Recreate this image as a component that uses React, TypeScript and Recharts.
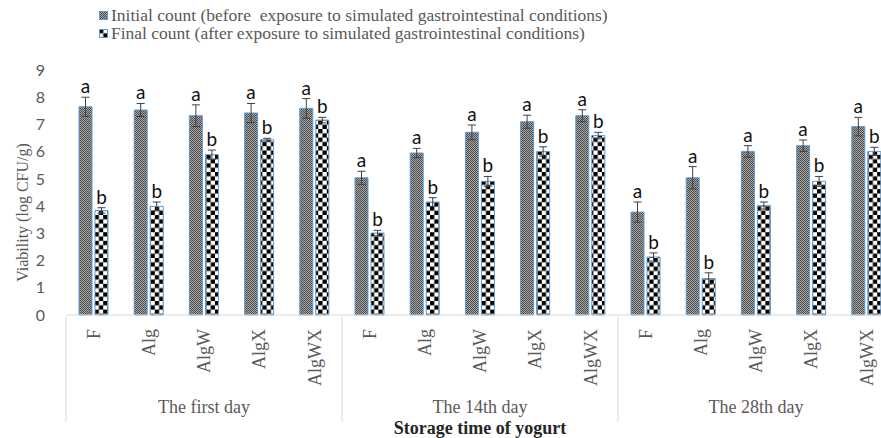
import React from "react";
import { BarChart, Bar, XAxis, YAxis, ErrorBar, LabelList, Legend } from "recharts";

const treatments = ["F", "Alg", "AlgW", "AlgX", "AlgWX"];
const storageDays = ["The first day", "The 14th day", "The 28th day"];

// log CFU/g
const initialCount = [7.65, 7.53, 7.32, 7.42, 7.59, 5.04, 5.95, 6.71, 7.1, 7.32, 3.78, 5.04, 6.01, 6.22, 6.92];
const initialErr = [0.35, 0.24, 0.4, 0.35, 0.36, 0.24, 0.17, 0.27, 0.24, 0.22, 0.37, 0.41, 0.21, 0.21, 0.34];
const finalCount = [3.84, 3.99, 5.89, 6.44, 7.16, 3.01, 4.15, 4.91, 6.01, 6.59, 2.13, 1.34, 4.02, 4.91, 6.01];
const finalErr = [0.1, 0.16, 0.17, 0.05, 0.1, 0.1, 0.16, 0.18, 0.17, 0.12, 0.15, 0.21, 0.13, 0.18, 0.15];
const yTicks = [0, 1, 2, 3, 4, 5, 6, 7, 8, 9];

const data = storageDays.flatMap((day, g) =>
  treatments.map((t, i) => {
    const k = g * treatments.length + i;
    return {
      name: t,
      day,
      initial: initialCount[k],
      initialErr: initialErr[k],
      final: finalCount[k],
      finalErr: finalErr[k],
      sigA: "a",
      sigB: "b",
    };
  })
);

const CHART_W = 900;
const CHART_H = 438;
const LEFT = 66;
const RIGHT_MARGIN = 6;
const BAND = (CHART_W - LEFT - RIGHT_MARGIN) / data.length;
const GRID = "#d9d9d9";
const TEXT = "#595959";
const SERIF = "'Liberation Serif', 'Times New Roman', serif";
const SANS = "Lato, 'Open Sans', sans-serif";

const XTick = ({ x, y, payload, index }: any) => {
  const perGroup = treatments.length;
  return (
    <g>
      <text
        x={x}
        y={y + 12}
        dy="0.35em"
        transform={`rotate(-90, ${x}, ${y + 12})`}
        textAnchor="end"
        fontFamily={SERIF}
        fontSize={18}
        fill={TEXT}
      >
        {payload.value}
      </text>
      {index % perGroup === 0 && (
        <line x1={x - BAND / 2} x2={x - BAND / 2} y1={y} y2={y + 105} stroke={GRID} />
      )}
      {index % perGroup === 2 && (
        <text x={x} y={y + 96} textAnchor="middle" fontFamily={SERIF} fontSize={18} fill={TEXT}>
          {data[index].day}
        </text>
      )}
    </g>
  );
};

const sigLabel = (errs: number[], vals: number[]) => (props: any) => {
  const { x, y, width, height, value, index } = props;
  const pxPerUnit = height / vals[index];
  const top = y - errs[index] * pxPerUnit;
  return (
    <text x={x + width / 2} y={top - 4} textAnchor="middle" fontFamily={SANS} fontSize={19} fill="#111">
      {value}
    </text>
  );
};

const legendItems = [
  { fill: "url(#pInit)", text: "Initial count (before  exposure to simulated gastrointestinal conditions)" },
  { fill: "url(#pFinal)", text: "Final count (after exposure to simulated gastrointestinal conditions)" },
];

const renderLegend = () => (
  <div style={{ fontFamily: SERIF, fontSize: 17.5, color: TEXT, lineHeight: "18px" }}>
    {legendItems.map((it) => (
      <div key={it.text} style={{ display: "flex", alignItems: "center", whiteSpace: "pre" }}>
        <svg width={9} height={9} style={{ marginRight: 3 }}>
          <rect x={0.5} y={0.5} width={8} height={8} fill={it.fill} stroke="#5b9bd5" />
        </svg>
        <span>{it.text}</span>
      </div>
    ))}
  </div>
);

export default function App() {
  return (
    <div style={{ position: "absolute", left: 0, top: 0, width: 881, height: 438, overflow: "hidden", background: "#fff" }}>
      <BarChart
        width={CHART_W}
        height={CHART_H}
        data={data}
        margin={{ top: 70, right: RIGHT_MARGIN, bottom: 0, left: 0 }}
        barSize={13}
        barGap={3}
      >
        <defs>
          <pattern id="pInit" width="2" height="2" patternUnits="userSpaceOnUse">
            <rect width="2" height="2" fill="#a6a6a6" />
            <rect width="1" height="1" fill="#4d4d4d" />
            <rect x="1" y="1" width="1" height="1" fill="#4d4d4d" />
          </pattern>
          <pattern id="pFinal" width="8.6" height="8.6" patternUnits="userSpaceOnUse">
            <rect width="8.6" height="8.6" fill="#fff" />
            <rect width="4.3" height="4.3" fill="#000" />
            <rect x="4.3" y="4.3" width="4.3" height="4.3" fill="#000" />
          </pattern>
        </defs>
        <Legend
          layout="vertical"
          align="center"
          verticalAlign="middle"
          content={renderLegend}
          wrapperStyle={{ position: "absolute", top: 6, left: 99, width: 700 }}
        />
        <XAxis
          dataKey="name"
          interval={0}
          height={123}
          tickLine={false}
          tickSize={0}
          axisLine={{ stroke: GRID }}
          tick={<XTick />}
          label={{
            value: "Storage time of yogurt",
            position: "insideBottom",
            offset: 4,
            style: { fontFamily: SERIF, fontSize: 18, fontWeight: "bold", fill: "#262626" },
          }}
        />
        <YAxis
          width={LEFT}
          domain={[0, 9]}
          ticks={yTicks}
          interval={0}
          axisLine={false}
          tickLine={false}
          tickSize={0}
          tickMargin={21}
          tick={{ fontFamily: SANS, fontSize: 16, fill: TEXT }}
          label={({ viewBox }: any) => (
            <text
              x={22}
              y={viewBox.y + viewBox.height / 2 + 20}
              transform={`rotate(-90, 22, ${viewBox.y + viewBox.height / 2 + 20})`}
              textAnchor="middle"
              dy="0.35em"
              fontFamily={SERIF}
              fontSize={16}
              fill={TEXT}
            >
              Viability (log CFU/g)
            </text>
          )}
        />
        <Bar dataKey="initial" fill="url(#pInit)" stroke="#5b9bd5" strokeWidth={1} isAnimationActive={false}>
          <ErrorBar dataKey="initialErr" width={4} stroke="#404040" strokeWidth={1} />
          <LabelList dataKey="sigA" content={sigLabel(initialErr, initialCount)} />
        </Bar>
        <Bar dataKey="final" fill="url(#pFinal)" stroke="#5b9bd5" strokeWidth={1} isAnimationActive={false}>
          <ErrorBar dataKey="finalErr" width={4} stroke="#404040" strokeWidth={1} />
          <LabelList dataKey="sigB" content={sigLabel(finalErr, finalCount)} />
        </Bar>
      </BarChart>
    </div>
  );
}
